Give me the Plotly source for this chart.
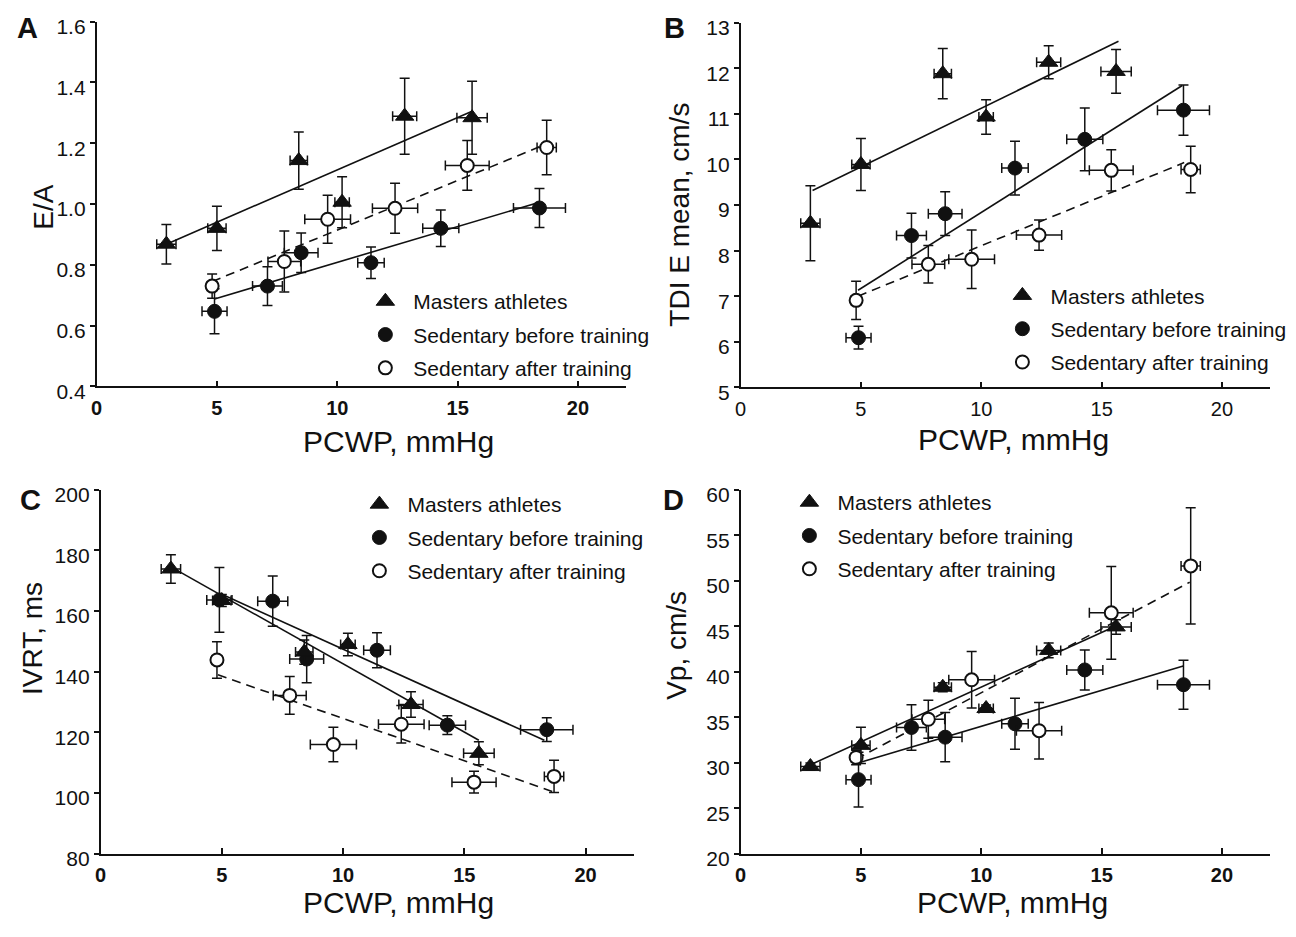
import plotly.graph_objects as go

W, H = 1296, 937

GROUPS = ["Masters athletes", "Sedentary before training", "Sedentary after training"]

# Shared PCWP (x) values and SEs per group
masters_pcwp = [2.9, 5.0, 8.4, 10.2, 12.8, 15.6]
masters_pcwp_err = [0.4, 0.38, 0.36, 0.3, 0.5, 0.63]
before_pcwp = [4.9, 7.1, 8.5, 11.4, 14.3, 18.4]
before_pcwp_err = [0.52, 0.62, 0.7, 0.55, 0.75, 1.08]
after_pcwp = [4.8, 7.8, 9.6, 12.4, 15.4, 18.7]
after_pcwp_err = [0.2, 0.68, 0.95, 0.94, 0.91, 0.4]

# Panel A: E/A
A_masters = [0.868, 0.92, 1.143, 1.006, 1.289, 1.284]
A_masters_err = [0.065, 0.073, 0.094, 0.084, 0.125, 0.12]
A_before = [0.647, 0.730, 0.840, 0.807, 0.920, 0.987]
A_before_err = [0.074, 0.064, 0.065, 0.052, 0.06, 0.064]
A_after = [0.730, 0.811, 0.950, 0.986, 1.127, 1.186]
A_after_err = [0.04, 0.1, 0.079, 0.082, 0.082, 0.09]
A_fit_masters = ([2.9, 15.6], [0.868, 1.305])
A_fit_before = ([4.9, 18.4], [0.688, 1.006])
A_fit_after = ([4.8, 18.7], [0.745, 1.198])

# Panel B: TDI E mean
B_masters = [8.60, 9.89, 11.88, 10.93, 12.13, 11.93]
B_masters_err = [0.82, 0.57, 0.55, 0.38, 0.36, 0.48]
B_before = [6.09, 8.33, 8.81, 9.81, 10.44, 11.08]
B_before_err = [0.25, 0.49, 0.48, 0.59, 0.69, 0.55]
B_after = [6.91, 7.70, 7.81, 8.34, 9.76, 9.78]
B_after_err = [0.42, 0.41, 0.64, 0.33, 0.45, 0.51]
B_fit_masters = ([2.99, 15.70], [9.32, 12.59])
B_fit_before = ([4.88, 18.35], [7.13, 11.62])
B_fit_after = ([4.88, 18.43], [7.0, 9.93])

# Panel C: IVRT
C_masters = [173.9, 163.5, 146.5, 149.0, 129.2, 113.1]
C_masters_err = [4.7, 2.0, 4.0, 3.7, 4.2, 3.8]
C_before = [163.7, 163.3, 144.2, 147.1, 122.4, 120.9]
C_before_err = [10.7, 8.3, 7.8, 5.8, 3.1, 3.9]
C_after = [143.9, 132.2, 116.0, 122.7, 103.6, 105.5]
C_after_err = [6.0, 6.2, 5.7, 6.2, 3.6, 5.3]
C_fit_masters = ([2.92, 15.6], [174.5, 117.4])
C_fit_before = ([4.96, 18.3], [165.7, 117.4])
C_fit_after = ([4.84, 18.63], [139.0, 100.5])

# Panel D: Vp
D_masters = [29.58, 31.91, 38.30, 35.96, 42.35, 44.93]
D_masters_err = [0.4, 2.0, 0.5, 0.4, 0.8, 0.8]
D_before = [28.14, 33.88, 32.81, 34.28, 40.20, 38.58]
D_before_err = [3.0, 2.5, 2.7, 2.8, 2.2, 2.7]
D_after = [30.58, 34.78, 39.12, 33.52, 46.48, 51.64]
D_after_err = [0.8, 2.1, 3.1, 3.1, 5.1, 6.4]
D_fit_masters = ([2.83, 15.59], [29.69, 45.04])
D_fit_before = ([4.88, 18.39], [29.97, 40.63])
D_fit_after = ([4.8, 18.66], [30.4, 49.85])

# Axis definitions
X_TICKS = [0, 5, 10, 15, 20]
A_yticks = [0.4, 0.6, 0.8, 1.0, 1.2, 1.4, 1.6]
B_yticks = [5, 6, 7, 8, 9, 10, 11, 12, 13]
C_yticks = [80, 100, 120, 140, 160, 180, 200]
D_yticks = [20, 25, 30, 35, 40, 45, 50, 55, 60]

FONT = "Liberation Sans, Arial, Helvetica, sans-serif"
INK = "#111111"


def px_x(p):
    return p / W


def px_y(p):
    return 1 - p / H


panels = [
    dict(name="A", xa="x", ya="y", leg="legend", ytitle="E/A",
         data=[(A_masters, A_masters_err), (A_before, A_before_err), (A_after, A_after_err)],
         fits=[A_fit_masters, A_fit_before, A_fit_after]),
    dict(name="B", xa="x2", ya="y2", leg="legend2", ytitle="TDI E mean, cm/s",
         data=[(B_masters, B_masters_err), (B_before, B_before_err), (B_after, B_after_err)],
         fits=[B_fit_masters, B_fit_before, B_fit_after]),
    dict(name="C", xa="x3", ya="y3", leg="legend3", ytitle="IVRT, ms",
         data=[(C_masters, C_masters_err), (C_before, C_before_err), (C_after, C_after_err)],
         fits=[C_fit_masters, C_fit_before, C_fit_after]),
    dict(name="D", xa="x4", ya="y4", leg="legend4", ytitle="Vp, cm/s",
         data=[(D_masters, D_masters_err), (D_before, D_before_err), (D_after, D_after_err)],
         fits=[D_fit_masters, D_fit_before, D_fit_after]),
]

group_x = [(masters_pcwp, masters_pcwp_err), (before_pcwp, before_pcwp_err), (after_pcwp, after_pcwp_err)]
group_marker = [
    dict(symbol="triangle-up", size=16, color=INK, line=dict(color=INK, width=1)),
    dict(symbol="circle", size=14, color=INK, line=dict(color=INK, width=1)),
    dict(symbol="circle", size=13, color="white", line=dict(color=INK, width=2)),
]
fit_dash = ["solid", "solid", "9px,6px"]

fig = go.Figure()

for p in panels:
    # regression lines
    for gi, (fx, fy) in enumerate(p["fits"]):
        fig.add_trace(go.Scatter(
            x=fx, y=fy, mode="lines", xaxis=p["xa"], yaxis=p["ya"],
            line=dict(color=INK, width=1.6, dash=fit_dash[gi]),
            showlegend=False, hoverinfo="skip"))
    # points with error bars
    for gi in [1, 2, 0]:
        xs, xe = group_x[gi]
        ys, ye = p["data"][gi]
        fig.add_trace(go.Scatter(
            x=xs, y=ys, mode="markers", xaxis=p["xa"], yaxis=p["ya"],
            name=GROUPS[gi], legend=p["leg"], legendgroup=p["name"] + str(gi),
            legendrank=gi + 1,
            marker=group_marker[gi],
            error_x=dict(type="data", array=xe, visible=True, color=INK, thickness=1.5, width=5),
            error_y=dict(type="data", array=ye, visible=True, color=INK, thickness=1.5, width=5),
        ))

layout = dict(
    width=W, height=H,
    margin=dict(l=0, r=0, t=0, b=0),
    paper_bgcolor="white", plot_bgcolor="white",
    font=dict(family=FONT, color=INK),
)

# panel geometry in pixels: (left, right, top, bottom)
geom = {
    "A": (91, 623, 15, 389),
    "B": (738, 1270, 16, 390),
    "C": (95, 631, 495, 868),
    "D": (738, 1270, 495, 868),
}
yranges = {"A": [0.4, 1.6], "B": [5, 13], "C": [80, 200], "D": [20, 60]}
yticks = {"A": A_yticks, "B": B_yticks, "C": C_yticks, "D": D_yticks}
yfmt = {"A": ".1f", "B": "d", "C": "d", "D": "d"}
xbold = {"A": True, "B": False, "C": True, "D": True}

for i, p in enumerate(panels):
    n = p["name"]
    l, r, t, b = geom[n]
    sfx = "" if i == 0 else str(i + 1)
    layout["xaxis" + sfx] = dict(
        domain=[px_x(l), px_x(r)], range=[0, 22], anchor="y" + sfx,
        showline=True, linecolor=INK, linewidth=1.5, mirror=False,
        ticks="inside", ticklen=6, tickwidth=1.5, tickcolor=INK,
        tickvals=X_TICKS, showgrid=False, zeroline=False,
        ticklabelstandoff=3,
        tickfont=dict(size=20, family=FONT, color=INK, weight="bold" if xbold[n] else "normal"),
        fixedrange=True,
    )
    layout["yaxis" + sfx] = dict(
        domain=[px_y(b), px_y(t)], range=yranges[n], anchor="x" + sfx,
        showline=True, linecolor=INK, linewidth=1.5, mirror=False,
        ticks="outside", ticklen=5, tickwidth=1.5, tickcolor=INK,
        tickvals=yticks[n], tickformat=yfmt[n], showgrid=False, zeroline=False,
        ticklabelshift=5,
        tickfont=dict(size=21, family=FONT, color=INK),
        fixedrange=True,
    )

legend_pos = {"A": (353, 281), "B": (993, 275), "C": (347, 489), "D": (779, 487)}
for i, p in enumerate(panels):
    lx, ly = legend_pos[p["name"]]
    key = "legend" if i == 0 else "legend" + str(i + 1)
    layout[key] = dict(
        x=px_x(lx), y=px_y(ly), xanchor="left", yanchor="top",
        xref="paper", yref="paper",
        font=dict(size=21, family=FONT, color=INK),
        bgcolor="rgba(0,0,0,0)", borderwidth=0,
        itemwidth=46, tracegroupgap=3, traceorder="grouped",
    )

annotations = []
letters = {"A": (22, 22), "B": (672, 22), "C": (25, 505), "D": (671, 505)}
for n, (x, y) in letters.items():
    annotations.append(dict(text="<b>%s</b>" % n, x=px_x(x), y=px_y(y), xref="paper", yref="paper",
                            showarrow=False, xanchor="center", yanchor="middle",
                            font=dict(size=29, family=FONT, color=INK)))

ytitle_pos = {"A": (38, 205), "B": (677, 213), "C": (26, 647), "D": (674, 654)}
xtitle_pos = {"A": (394, 445), "B": (1012, 443), "C": (394, 918), "D": (1011, 918)}
for p in panels:
    n = p["name"]
    x, y = ytitle_pos[n]
    annotations.append(dict(text=p["ytitle"], x=px_x(x), y=px_y(y), xref="paper", yref="paper",
                            showarrow=False, textangle=-90, xanchor="center", yanchor="middle",
                            font=dict(size=28, family=FONT, color=INK)))
    x, y = xtitle_pos[n]
    annotations.append(dict(text="PCWP, mmHg", x=px_x(x), y=px_y(y), xref="paper", yref="paper",
                            showarrow=False, xanchor="center", yanchor="middle",
                            font=dict(size=30, family=FONT, color=INK)))

layout["annotations"] = annotations
layout["showlegend"] = True
fig.update_layout(**layout)

PAGE_FIX = (
    "document.documentElement.style.margin='0';"
    "document.documentElement.style.padding='0';"
    "document.documentElement.style.overflow='hidden';"
    "document.body.style.margin='0';"
    "document.body.style.padding='0';"
    "document.body.style.overflow='hidden';"
    "document.body.style.fontSize='0';"
    "document.body.style.lineHeight='0';"
    "document.body.style.height='937px';"
    "var gd=document.getElementsByClassName('plotly-graph-div')[0];"
    "gd.style.position='absolute';gd.style.left='0px';gd.style.top='0px';"
)

fig.write_html("out.html", config={"displayModeBar": False}, post_script=PAGE_FIX)
